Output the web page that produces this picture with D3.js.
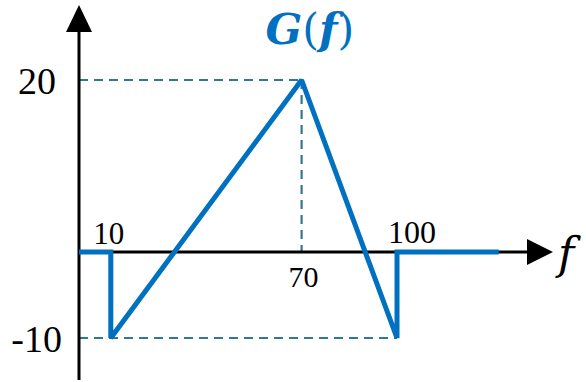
<!DOCTYPE html>
<html>
<head>
<meta charset="utf-8">
<script src="https://cdn.jsdelivr.net/npm/d3@7"></script>
<style>
  html, body { margin: 0; padding: 0; background: #fff; }
  svg { display: block; }
</style>
</head>
<body>
<svg id="chart" width="586" height="382"></svg>
<script>
// Piecewise-linear spectrum G(f)
const freqs  = [0, 10, 10, 70, 100, 100, 132];
const values = [0, 0, -10, 20, -10, 0, 0];

// Labelled frequencies and levels
const xTickVals = [10, 70, 100];
const xTickText = ["10", "70", "100"];
const yTickVals = [20, -10];
const yTickText = ["20", "-10"];

const blue = "#0070c0";
const guide = "#31798f";
const serif = "'Liberation Serif', 'Times New Roman', serif";
const mathSerif = "'DejaVu Serif', 'Liberation Serif', serif";

const svg = d3.select("#chart");

const x = d3.scaleLinear().domain([0, 100]).range([79, 397]);
const y = d3.scaleLinear().domain([-10, 20]).range([338, 80]);

const x0 = x(0), y0 = y(0);

// Dashed guide lines to the peak and the trough
const guides = svg.append("g")
  .attr("stroke", guide)
  .attr("stroke-width", 2.2)
  .attr("stroke-dasharray", "9,6")
  .attr("fill", "none");

guides.append("line")
  .attr("x1", x0).attr("y1", y(20)).attr("x2", x(70)).attr("y2", y(20));
guides.append("line")
  .attr("x1", x(70)).attr("y1", y(20)).attr("x2", x(70)).attr("y2", y0);
guides.append("line")
  .attr("x1", x0).attr("y1", y(-10)).attr("x2", x(100)).attr("y2", y(-10));

// Axes with arrowheads
const axes = svg.append("g");
axes.append("line")
  .attr("x1", x0).attr("y1", y0).attr("x2", 530).attr("y2", y0)
  .attr("stroke", "#000").attr("stroke-width", 3);
axes.append("path")
  .attr("d", `M527,${y0 - 13} L553,${y0} L527,${y0 + 13} Z`)
  .attr("fill", "#000");
axes.append("line")
  .attr("x1", x0).attr("y1", 380).attr("x2", x0).attr("y2", 30)
  .attr("stroke", "#000").attr("stroke-width", 3);
axes.append("path")
  .attr("d", `M${x0 - 13},32 L${x0},5 L${x0 + 13},32 Z`)
  .attr("fill", "#000");

// Spectrum line
const pts = freqs.map((f, i) => [f, values[i]]);
const line = d3.line().x(d => x(d[0])).y(d => y(d[1]));
svg.append("path")
  .datum(pts)
  .attr("d", line)
  .attr("fill", "none")
  .attr("stroke", blue)
  .attr("stroke-width", 5)
  .attr("stroke-linejoin", "miter")
  .attr("stroke-miterlimit", 2);

// Frequency labels
const xLabelOffsets = { 10: [-2, -8], 70: [2, 35], 100: [15, -9] };
const xSizes = { 10: 31, 70: 30, 100: 32 };
svg.append("g")
  .selectAll("text")
  .data(xTickVals)
  .join("text")
  .attr("x", d => x(d) + xLabelOffsets[d][0])
  .attr("y", d => y0 + xLabelOffsets[d][1])
  .attr("text-anchor", "middle")
  .attr("font-family", serif)
  .attr("font-size", d => xSizes[d])
  .attr("fill", "#000")
  .text((d, i) => xTickText[i]);

// Level labels
svg.append("g")
  .selectAll("text")
  .data(yTickVals)
  .join("text")
  .attr("x", d => d > 0 ? 56 : 62)
  .attr("y", d => y(d) + 14)
  .attr("text-anchor", "end")
  .attr("font-family", serif)
  .attr("font-size", 38)
  .attr("fill", "#000")
  .text((d, i) => yTickText[i]);

// Axis name
svg.append("text")
  .attr("x", 558).attr("y", 269)
  .attr("font-family", mathSerif)
  .attr("font-style", "italic")
  .attr("font-size", 44)
  .attr("fill", "#000")
  .text("f");

// Title: italic symbols, upright brackets
const title = svg.append("text")
  .attr("x", 310).attr("y", 44)
  .attr("text-anchor", "middle")
  .attr("font-family", mathSerif)
  .attr("font-weight", "bold")
  .attr("font-size", 43)
  .attr("fill", blue);
title.append("tspan").attr("font-style", "italic").text("G");
title.append("tspan").attr("font-weight", "normal").text("(");
title.append("tspan").attr("font-style", "italic").text("f");
title.append("tspan").attr("font-weight", "normal").text(")");
</script>
</body>
</html>
